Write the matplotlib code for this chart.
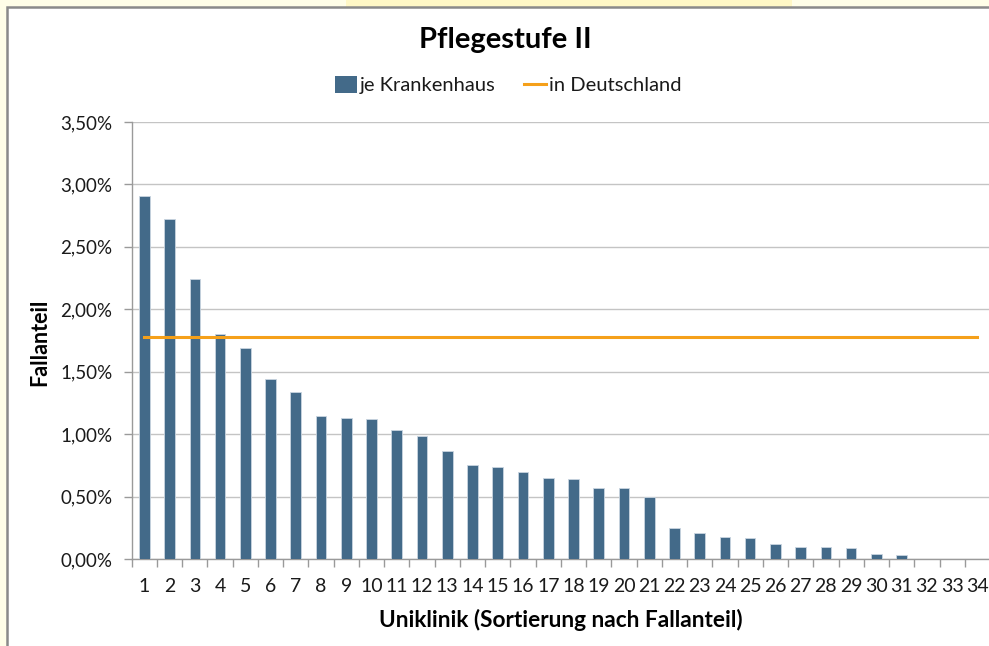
import numpy as np
import matplotlib
matplotlib.use("Agg")
import matplotlib.pyplot as plt
from matplotlib.patches import Rectangle, Patch
from matplotlib.lines import Line2D
from matplotlib.ticker import FuncFormatter

categories = [str(i) for i in range(1, 35)]
je_krankenhaus = [2.91, 2.72, 2.24, 1.805, 1.686, 1.44, 1.336, 1.144, 1.128, 1.122,
                  1.03, 0.982, 0.866, 0.75, 0.738, 0.696, 0.65, 0.642, 0.57, 0.57,
                  0.494, 0.248, 0.21, 0.18, 0.165, 0.117, 0.10, 0.093, 0.088, 0.04,
                  0.03, 0.0, 0.0, 0.0]
in_deutschland = 1.78
y_ticks = [0.0, 0.5, 1.0, 1.5, 2.0, 2.5, 3.0, 3.5]

plt.rcParams['font.family'] = ['Lato', 'DejaVu Sans']

W, H = 989, 646
fig = plt.figure(figsize=(W / 100, H / 100), dpi=100)
fig.patch.set_facecolor('#FFFEE8')

# background frame (pixel coords from top-left)
def px_rect(x0, y0, x1, y1, z, **kw):
    r = Rectangle((x0 / W, 1 - y1 / H), (x1 - x0) / W, (y1 - y0) / H,
                  transform=fig.transFigure, zorder=z, **kw)
    fig.patches.append(r)

px_rect(346, -2, 792, 8, -3, facecolor='#FFF8C6', edgecolor='none')
px_rect(7, 7, W + 10, H + 10, -2, facecolor='white', edgecolor='#8A8A8A', linewidth=1.8)

ax = fig.add_axes([131.7 / W, 1 - 559 / H, 858.3 / W, 437 / H])
ax.set_zorder(2)
ax.set_facecolor('none')
x = np.arange(len(categories))
ax.bar(x, je_krankenhaus, width=0.42, color='#436A89', edgecolor='#C9D5E0',
       linewidth=0.6, zorder=3, label='je Krankenhaus')
ax.plot([x[0], x[-1]], [in_deutschland, in_deutschland], color='#F5A01A',
        linewidth=2.2, zorder=4, label='in Deutschland')

ax.set_xlim(-0.5, len(categories) - 0.5)
ax.set_ylim(0, 3.5)
ax.set_yticks(y_ticks)
ax.yaxis.set_major_formatter(FuncFormatter(lambda v, p: f"{v:.2f}".replace('.', ',') + '%'))
ax.grid(axis='y', color='#C4C4C4', linewidth=1.0, zorder=0)
ax.set_axisbelow(True)

ax.set_xticks(x)
ax.set_xticklabels(categories)
ax.set_xticks(np.arange(-0.5, len(categories) + 0.5, 1), minor=True)
ax.tick_params(axis='x', which='major', length=0, pad=14, labelsize=14, labelcolor='#1A1A1A')
ax.tick_params(axis='x', which='minor', length=6, color='#9A9A9A', width=1)
ax.tick_params(axis='y', length=6, color='#9A9A9A', width=1, pad=8, labelsize=13.5, labelcolor='#1A1A1A')

for s in ['top', 'right']:
    ax.spines[s].set_visible(False)
ax.spines['left'].set_color('#9A9A9A')
ax.spines['bottom'].set_color('#9A9A9A')
ax.spines['left'].set_linewidth(1)
ax.spines['bottom'].set_linewidth(1)

fig.text(505 / W, 1 - 40 / H, 'Pflegestufe II', ha='center', va='center',
         fontsize=21, fontweight='bold', color='black')
fig.text(40 / W, 1 - 342 / H, 'Fallanteil', ha='center', va='center', rotation=90,
         fontsize=15.5, fontweight='bold', color='black')
fig.text(561 / W, 1 - 620 / H, 'Uniklinik (Sortierung nach Fallanteil)', ha='center',
         va='center', fontsize=16.3, fontweight='bold', color='black')

handles = [Patch(facecolor='#436A89', edgecolor='none'),
           Line2D([0], [0], color='#F5A01A', linewidth=2.2)]
fig.legend(handles, ['je Krankenhaus', 'in Deutschland'], loc='center',
           bbox_to_anchor=(508 / W, 1 - 85 / H), ncol=2, frameon=False,
           fontsize=14.5, handlelength=1.1, handleheight=0.9, handletextpad=0.15,
           columnspacing=1.4, labelcolor='#1A1A1A')

fig.savefig('out.png', dpi=100, facecolor=fig.get_facecolor())
